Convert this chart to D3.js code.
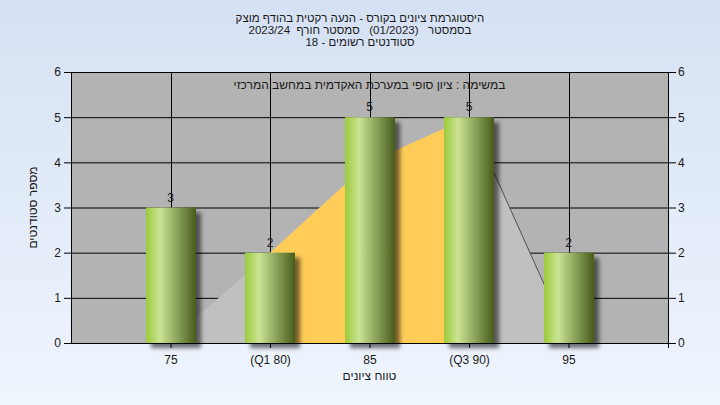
<!DOCTYPE html>
<html><head><meta charset="utf-8">
<script src="https://cdn.jsdelivr.net/npm/d3@7"></script>
<style>
html,body{margin:0;padding:0;}
svg{display:block;}
text{font-family:"Liberation Sans",Arial,sans-serif;white-space:pre;}
</style></head>
<body><svg id="c" width="720" height="405"></svg>
<script>
const categories = [75, 80, 85, 90, 95];
const tickLabels = ["75", "(Q1 80)", "85", "(Q3 90)", "95"];
const counts = [3, 2, 5, 5, 2];
const curveValues = [0.06, 2, 4, 5, 0.1];
const q1 = 80, q3 = 90;
const yTicks = [0, 1, 2, 3, 4, 5, 6];
const titleLines = ["היסטוגרמת ציונים בקורס - הנעה רקטית בהודף מוצק", "בסמסטר   (01/2023)   סמסטר חורף  2023/24", "סטודנטים רשומים - 18"];
const innerTitle = "במשימה : ציון סופי במערכת האקדמית במחשב המרכזי";
const xTitle = "טווח ציונים";
const yTitle = "מספר סטודנטים";

const svg = d3.select("#c");
const defs = svg.append("defs");
const bg = defs.append("linearGradient").attr("id","bg").attr("x1",0).attr("y1",0).attr("x2",0).attr("y2",1);
bg.append("stop").attr("offset","0%").attr("stop-color","#d5e1f3");
bg.append("stop").attr("offset","100%").attr("stop-color","#eff5fd");
const bar = defs.append("linearGradient").attr("id","bar").attr("x1",0).attr("y1",0).attr("x2",1).attr("y2",0);
[["0%","#9ccb3b"],["28%","#cbe393"],["60%","#8fa85f"],["100%","#485c1c"]].forEach(s=>bar.append("stop").attr("offset",s[0]).attr("stop-color",s[1]));
const f = defs.append("filter").attr("id","sh").attr("x","-20%").attr("y","-20%").attr("width","150%").attr("height","150%");
f.append("feDropShadow").attr("dx",5).attr("dy",5).attr("stdDeviation",2).attr("flood-color","#000").attr("flood-opacity",0.55);

svg.append("rect").attr("width",720).attr("height",405).attr("fill","url(#bg)");

const L = 71, R = 668, T = 72, B = 343;
const x = d3.scaleLinear().domain([70,100]).range([L,R]);
const y = d3.scaleLinear().domain([0,6]).range([B,T]);

svg.append("rect").attr("x",L).attr("y",T).attr("width",R-L).attr("height",B-T).attr("fill","#b3b3b3");

// grid
svg.append("g").selectAll("line").data(yTicks).join("line")
  .attr("x1",L).attr("x2",R).attr("y1",d=>y(d)+0.5).attr("y2",d=>y(d)+0.5)
  .attr("stroke","#000").attr("stroke-width",1);
svg.append("g").selectAll("line").data(categories).join("line")
  .attr("x1",d=>Math.round(x(d))+0.5).attr("x2",d=>Math.round(x(d))+0.5).attr("y1",T).attr("y2",B)
  .attr("stroke","#000").attr("stroke-width",1);

// distribution areas
const pts = categories.map((c,i)=>({c, v: curveValues[i]}));
const area = d3.area().x(d=>x(d.c)).y0(y(0)).y1(d=>y(d.v));
svg.append("path").attr("d",area(pts)).attr("fill","#c0c0c0");
svg.append("path").attr("d",area(pts.filter(d=>d.c>=q1 && d.c<=q3))).attr("fill","#ffcc58");
svg.append("path").attr("d",d3.line().x(d=>x(d.c)).y(d=>y(d.v))(pts.filter(d=>d.c>=q3)))
  .attr("fill","none").attr("stroke","#505050").attr("stroke-width",1);

// bars
const bw = 50;
svg.append("g").selectAll("rect").data(categories).join("rect")
  .attr("x",d=>Math.round(x(d))-bw/2).attr("width",bw)
  .attr("y",(d,i)=>y(counts[i])).attr("height",(d,i)=>B-y(counts[i]))
  .attr("fill","url(#bar)").attr("filter","url(#sh)");

// value labels
svg.append("g").selectAll("text").data(categories).join("text")
  .attr("x",d=>x(d)).attr("y",(d,i)=>y(counts[i])-6)
  .attr("text-anchor","middle").attr("font-size",12).attr("fill","#1a1a1a")
  .text((d,i)=>counts[i]);

// axes
const ax = svg.append("g").attr("transform",`translate(0,${B})`)
  .call(d3.axisBottom(x).tickValues(categories).tickFormat((d,i)=>tickLabels[i]).tickSize(5).tickSizeOuter(0).tickPadding(7));
const ay = svg.append("g").attr("transform",`translate(${L},0)`)
  .call(d3.axisLeft(y).tickValues(yTicks).tickFormat(d3.format("d")).tickSize(7).tickSizeOuter(0).tickPadding(3));
const ay2 = svg.append("g").attr("transform",`translate(${R},0)`)
  .call(d3.axisRight(y).tickValues(yTicks).tickFormat(d3.format("d")).tickSize(8).tickSizeOuter(0).tickPadding(2));
[ax,ay,ay2].forEach(g=>{
  g.selectAll("text").attr("font-size",12).attr("fill","#1a1a1a").attr("font-family","Liberation Sans, Arial, sans-serif");
  g.selectAll("line,path").attr("stroke","#000");
});
ay2.select(".domain").attr("d",`M0.5,${T}V${B+5}`);

// titles
svg.append("g").selectAll("text").data(titleLines).join("text")
  .attr("x",360).attr("y",(d,i)=>22+i*12).attr("text-anchor","middle").attr("direction","rtl")
  .attr("font-size",11.5).attr("fill","#1a1a1a").text(d=>d);
svg.append("text").attr("x",(L+R)/2).attr("y",89).attr("text-anchor","middle").attr("direction","rtl")
  .attr("font-size",12).attr("fill","#1a1a1a").text(innerTitle);
svg.append("text").attr("x",(L+R)/2).attr("y",380).attr("text-anchor","middle").attr("direction","rtl")
  .attr("font-size",12).attr("fill","#1a1a1a").text(xTitle);
svg.append("text").attr("transform",`translate(37,${(T+B)/2}) rotate(-90)`).attr("text-anchor","middle").attr("direction","rtl")
  .attr("font-size",12).attr("fill","#1a1a1a").text(yTitle);
</script></body></html>
